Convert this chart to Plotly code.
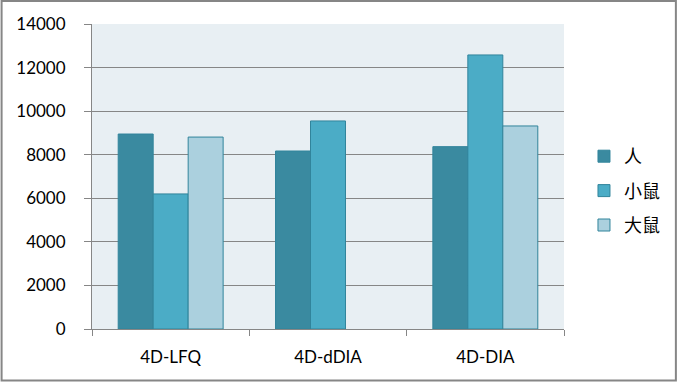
import plotly.graph_objects as go

categories = ["4D-LFQ", "4D-dDIA", "4D-DIA"]
series_names = ["人", "小鼠", "大鼠"]
human = [8950, 8170, 8370]
mouse = [6200, 9550, 12580]
rat = [8810, None, 9320]
y_ticks = [0, 2000, 4000, 6000, 8000, 10000, 12000, 14000]
y_tick_labels = ["0", "2000", "4000", "6000", "8000", "10000", "12000", "14000"]

colors = ["#3A8AA0", "#4BACC6", "#ABD0DE"]
edge = "#31849B"

fig = go.Figure()
for name, vals, col in zip(series_names, [human, mouse, rat], colors):
    fig.add_trace(go.Bar(
        x=categories, y=vals, name=name,
        marker=dict(color=col, line=dict(color=edge, width=1)),
        legendgroup=name,
    ))

W, H = 677, 382
L, R, T, B = 91.5, 113, 24, 53
pw = W - L - R
ph = H - T - B

fig.update_layout(
    width=W, height=H,
    margin=dict(l=L, r=R, t=T, b=B, pad=0, autoexpand=False),
    paper_bgcolor="white",
    plot_bgcolor="#E8EFF3",
    barmode="group",
    bargap=0.333,
    bargroupgap=0,
    font=dict(family="Lato, Noto Sans CJK SC", size=17, color="#000000"),
    legend=dict(
        x=(584 - L) / pw, xanchor="left", y=(H - B - 191) / ph, yanchor="middle",
        font=dict(family="Noto Sans CJK SC", size=18, color="#000000"),
        tracegroupgap=8, itemwidth=30, bgcolor="rgba(0,0,0,0)",
    ),
    xaxis=dict(
        type="category", tickson="boundaries", ticks="outside", ticklen=6,
        tickcolor="#868686", showline=True, linecolor="#868686", linewidth=1,
        showgrid=False, tickfont=dict(size=17, family="Lato"),
        ticklabelstandoff=13, automargin=False,
    ),
    yaxis=dict(
        range=[0, 14000], tickvals=y_ticks, ticktext=y_tick_labels,
        ticks="outside", ticklen=7,
        tickcolor="#868686", showline=True, linecolor="#868686", linewidth=1,
        gridcolor="#868686", gridwidth=1, zeroline=False,
        tickfont=dict(size=17, family="Lato"), ticklabelstandoff=15,
        automargin=False,
    ),
)

# outer chart border
x0 = (1 - L) / pw
x1 = (676 - L) / pw
y1 = (H - B - 1) / ph
y0 = (H - B - 380.5) / ph
fig.add_shape(type="rect", xref="paper", yref="paper", x0=x0, x1=x1, y0=y0, y1=y1,
              line=dict(color="#868686", width=2), layer="below")

fig.write_html("out.html", config={"displayModeBar": False},
               post_script="document.body.style.margin='0';document.body.style.overflow='hidden';")
